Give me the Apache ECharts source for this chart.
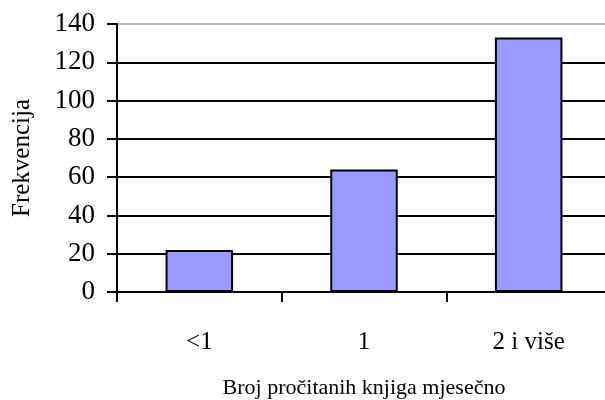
<!DOCTYPE html>
<html>
<head>
<meta charset="utf-8">
<script src="https://cdn.jsdelivr.net/npm/echarts@6/dist/echarts.min.js"></script>
<style>
  html, body { margin: 0; padding: 0; background: #fff; }
  #chart { width: 605px; height: 400px; }
</style>
</head>
<body>
<div id="chart"></div>
<script>
const categories = ['<1', '1', '2 i više']
const frequencies = [22, 64, 133]
const yTicks = [0, 20, 40, 60, 80, 100, 120, 140]

const chart = echarts.init(document.getElementById('chart'))
const font = 'Liberation Serif'

// gridlines are black, the top one (140) is light grey
const gridColors = yTicks.map((v, i) => (i === yTicks.length - 1 ? '#c0c0c0' : '#000'))

chart.setOption({
  animation: false,
  grid: {
    left: 117,
    top: 24,
    right: -6,
    bottom: 108,
    outerBoundsMode: 'none',
    containLabel: false
  },
  xAxis: {
    type: 'category',
    data: categories,
    name: 'Broj pročitanih knjiga mjesečno',
    nameLocation: 'middle',
    nameGap: 85,
    nameTextStyle: { fontFamily: font, fontSize: 22, color: '#000' },
    axisLine: { lineStyle: { color: '#000', width: 2 } },
    axisTick: { show: true, length: 10, lineStyle: { color: '#000', width: 2 } },
    axisLabel: { fontFamily: font, fontSize: 25, color: '#000', margin: 38 }
  },
  yAxis: {
    type: 'value',
    min: yTicks[0],
    max: yTicks[yTicks.length - 1],
    interval: 20,
    name: 'Frekvencija',
    nameLocation: 'middle',
    nameGap: 82,
    nameRotate: 90,
    nameTextStyle: { fontFamily: font, fontSize: 25, color: '#000' },
    axisLine: { show: true, lineStyle: { color: '#000', width: 2 } },
    axisTick: { show: true, length: 10, lineStyle: { color: '#000', width: 2 } },
    axisLabel: { fontFamily: font, fontSize: 27, color: '#000', margin: 22 },
    splitLine: { lineStyle: { color: gridColors, width: 2 } }
  },
  series: [
    {
      type: 'bar',
      data: frequencies,
      barWidth: '41%',
      itemStyle: {
        color: '#9999ff',
        borderColor: '#000',
        borderWidth: 2
      }
    }
  ]
})
</script>
</body>
</html>
